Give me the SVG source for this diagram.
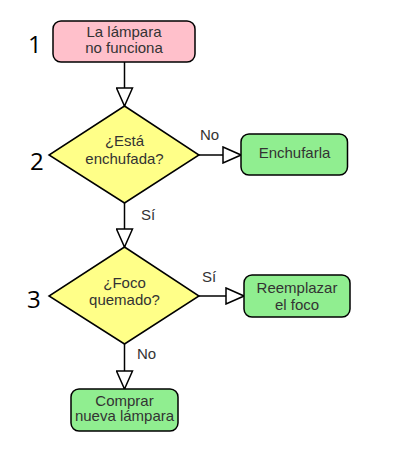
<svg xmlns="http://www.w3.org/2000/svg" width="405" height="450" viewBox="0 0 405 450">
<style>
.box{stroke:#000;stroke-width:1.5}
.start{fill:#FFC0CB}
.end{fill:#90EE90}
.dec{fill:#FFFF88;stroke:#000;stroke-width:1.5}
.t{font-family:"Liberation Sans",Arial,sans-serif;font-size:15px;fill:#333;text-anchor:middle}
.lbl{font-family:"Liberation Sans",Arial,sans-serif;font-size:15px;fill:#333}
.num{font-family:"Open Sans","DejaVu Sans",sans-serif;font-size:24px;fill:#000}
.edge{stroke:#000;stroke-width:1.5;fill:none;marker-end:url(#arr)}
</style>
<defs>
<marker id="arr" viewBox="0 0 20 18" refX="19" refY="9" markerWidth="20" markerHeight="18" markerUnits="userSpaceOnUse" orient="auto">
<path d="M1,1 L19,9 L1,17 Z" fill="#fff" stroke="#000" stroke-width="1.5"/>
</marker>
</defs>
<rect width="405" height="450" fill="#fff"/>
<g id="connectors">
<line class="edge" x1="124.5" y1="62" x2="124.5" y2="106"/>
<line class="edge" x1="199" y1="155" x2="241" y2="155"/>
<line class="edge" x1="124.5" y1="203" x2="124.5" y2="247"/>
<line class="edge" x1="199" y1="296" x2="244" y2="296"/>
<line class="edge" x1="124.5" y1="344" x2="124.5" y2="389"/>
<text class="lbl" x="200" y="139.5">No</text>
<text class="lbl" x="141" y="220">Sí</text>
<text class="lbl" x="202" y="282">Sí</text>
<text class="lbl" x="137" y="359">No</text>
</g>
<g id="n1">
<rect class="box start" x="53" y="21" width="142" height="41" rx="8"/>
<text class="t" x="124" y="37.3">La lámpara</text>
<text class="t" x="124" y="53.2">no funciona</text>
</g>
<g id="d1">
<polygon class="dec" points="124.5,106 199,155 124.5,203 49,155"/>
<text class="t" x="124.5" y="146">¿Está</text>
<text class="t" x="124.5" y="164">enchufada?</text>
</g>
<g id="n2">
<rect class="box end" x="241" y="134" width="106.5" height="41" rx="8"/>
<text class="t" x="294.5" y="157.5">Enchufarla</text>
</g>
<g id="d2">
<polygon class="dec" points="124.5,247 199,296 124.5,344 49,296"/>
<text class="t" x="124.5" y="288">¿Foco</text>
<text class="t" x="124.5" y="304.5">quemado?</text>
</g>
<g id="n3">
<rect class="box end" x="244" y="275" width="106" height="42" rx="8"/>
<text class="t" x="297" y="293">Reemplazar</text>
<text class="t" x="297" y="309.5">el foco</text>
</g>
<g id="n4">
<rect class="box end" x="71" y="389" width="107" height="42" rx="8"/>
<text class="t" x="124.5" y="405.5">Comprar</text>
<text class="t" x="124.5" y="421">nueva lámpara</text>
</g>
<g id="numbers">
<text class="num" x="28" y="53">1</text>
<text class="num" x="30" y="170">2</text>
<text class="num" x="27" y="308">3</text>
</g>
</svg>
